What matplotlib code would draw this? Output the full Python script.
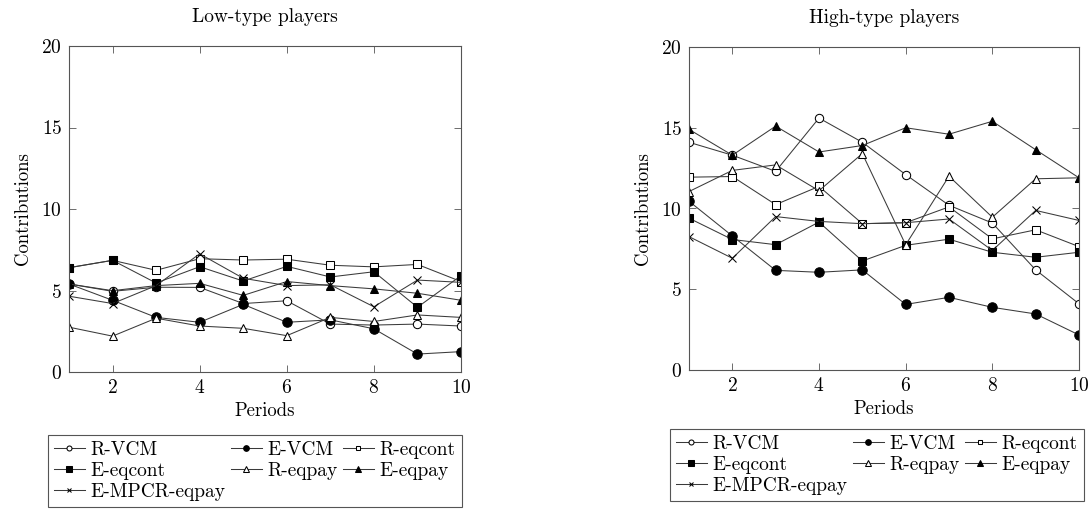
import matplotlib
matplotlib.use("Agg")
import matplotlib.pyplot as plt

plt.rcParams['font.family'] = ['cmr10', 'DejaVu Serif']
plt.rcParams['axes.formatter.use_mathtext'] = True
plt.rcParams['mathtext.fontset'] = 'cm'

periods = [1, 2, 3, 4, 5, 6, 7, 8, 9, 10]
series_names = ["R-VCM", "E-VCM", "R-eqcont", "E-eqcont", "R-eqpay", "E-eqpay", "E-MPCR-eqpay"]

low_r_vcm = [5.4, 4.95, 5.2, 5.19, 4.2, 4.37, 2.94, 2.88, 2.94, 2.82]
low_e_vcm = [5.4, 4.4, 3.35, 3.05, 4.15, 3.05, 3.2, 2.65, 1.1, 1.25]
low_r_eqcont = [6.4, 6.85, 6.24, 6.95, 6.87, 6.92, 6.55, 6.45, 6.6, 5.55]
low_e_eqcont = [6.4, 6.85, 5.46, 6.46, 5.58, 6.48, 5.83, 6.15, 3.97, 5.91]
low_r_eqpay = [2.75, 2.2, 3.3, 2.82, 2.68, 2.23, 3.35, 3.1, 3.5, 3.35]
low_e_eqpay = [5.4, 4.99, 5.3, 5.44, 4.7, 5.55, 5.3, 5.1, 4.83, 4.4]
low_e_mpcr = [4.65, 4.2, 5.3, 7.25, 5.75, 5.3, 5.35, 4.0, 5.64, 5.5]

high_r_vcm = [14.1, 13.3, 12.3, 15.6, 14.1, 12.1, 10.2, 9.1, 6.2, 4.1]
high_e_vcm = [10.45, 8.3, 6.17, 6.05, 6.2, 4.06, 4.5, 3.88, 3.47, 2.17]
high_r_eqcont = [11.94, 11.98, 10.24, 11.37, 9.06, 9.12, 10.1, 8.12, 8.68, 7.64]
high_e_eqcont = [9.4, 8.08, 7.76, 9.16, 6.75, 7.72, 8.1, 7.29, 6.98, 7.29]
high_r_eqpay = [11.05, 12.36, 12.7, 11.1, 13.4, 7.75, 12.0, 9.46, 11.84, 11.9]
high_e_eqpay = [14.9, 13.3, 15.1, 13.5, 13.9, 15.0, 14.6, 15.4, 13.64, 11.9]
high_e_mpcr = [8.26, 6.92, 9.5, 9.2, 9.06, 9.12, 9.35, 7.4, 9.88, 9.26]

low_data = [low_r_vcm, low_e_vcm, low_r_eqcont, low_e_eqcont, low_r_eqpay, low_e_eqpay, low_e_mpcr]
high_data = [high_r_vcm, high_e_vcm, high_r_eqcont, high_e_eqcont, high_r_eqpay, high_e_eqpay, high_e_mpcr]

styles = [
    dict(marker='o', mfc='white', ms=6.0),
    dict(marker='o', mfc='black', ms=6.8),
    dict(marker='s', mfc='white', ms=5.8),
    dict(marker='s', mfc='black', ms=6.3),
    dict(marker='^', mfc='white', ms=6.3),
    dict(marker='^', mfc='black', ms=6.3),
    dict(marker='x', mfc='none', ms=5.8),
]

W, H = 1092, 517
fig = plt.figure(figsize=(W / 100, H / 100), dpi=100)

def make_ax(l, r, t, b):
    return fig.add_axes([l / W, (H - b) / H, (r - l) / W, (b - t) / H])

ax_low = make_ax(69, 461, 46, 372)
ax_high = make_ax(689, 1079, 47, 370)

def draw(ax, data, title):
    for name, vals, st in zip(series_names, data, styles):
        ax.plot(periods, vals, color='#3a3a3a', lw=0.75, mec='black', mew=0.75,
                label=name, **st)
    ax.set_xlim(1, 10)
    ax.set_ylim(0, 20)
    ax.set_xticks([2, 4, 6, 8, 10])
    ax.set_yticks([0, 5, 10, 15, 20])
    ax.tick_params(direction='in', top=True, right=True, length=5, width=0.6,
                   color='#555555', labelsize=14, pad=5)
    for s in ax.spines.values():
        s.set_color('#555555')
        s.set_linewidth(0.8)
    ax.set_title(title, fontsize=14, pad=17)
    ax.set_xlabel("Periods", fontsize=13.5, labelpad=4)
    ax.set_ylabel("Contributions", fontsize=13.5, labelpad=7)

draw(ax_low, low_data, "Low-type players")
draw(ax_high, high_data, "High-type players")

def legend(ax, x, y):
    h, l = ax.get_legend_handles_labels()
    order = [0, 3, 6, 1, 4, 2, 5]
    leg = fig.legend([h[i] for i in order], [l[i] for i in order],
                     loc='upper left', bbox_to_anchor=(x / W, (H - y) / H),
                     ncol=3, fontsize=14, frameon=True, fancybox=False,
                     edgecolor='#555555', framealpha=1, handlelength=1.6,
                     handletextpad=0.3, columnspacing=0.25, labelspacing=0.15,
                     borderpad=0.3, markerscale=0.6, borderaxespad=0)
    leg.get_frame().set_linewidth(0.8)
    return leg

legend(ax_low, 48, 435)
legend(ax_high, 670, 429)

fig.savefig("out.png", dpi=100)
